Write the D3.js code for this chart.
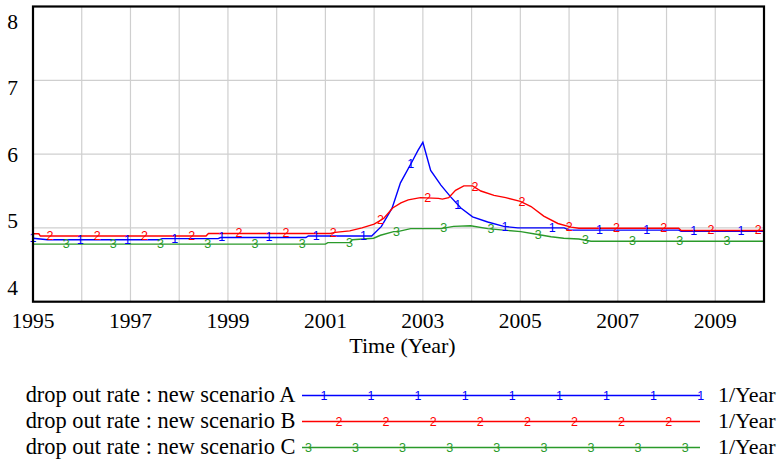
<!DOCTYPE html>
<html><head><meta charset="utf-8">
<script src="https://cdn.jsdelivr.net/npm/d3@7/dist/d3.min.js"></script>
<style>
body{margin:0;background:#fff}
svg{display:block}
</style>
</head><body>
<svg id="chart" width="783" height="464"></svg>
<script>
// ---- data ----
const timesA = [1995.0,1995.3,1997.6,1997.65,1998.8,1998.85,2000.6,2000.65,2001.95,2002.15,2002.37,2002.54,2002.78,2002.9,2003.0,2003.16,2003.37,2003.57,2003.78,2004.02,2004.33,2004.66,2004.95,2005.9,2006.0,2008.25,2008.3,2010.0];
const valuesA = [4.86,4.84,4.84,4.855,4.855,4.87,4.87,4.89,4.89,5.02,5.27,5.61,5.90,6.05,6.16,5.78,5.58,5.42,5.27,5.15,5.08,5.02,5.00,5.00,4.97,4.97,4.955,4.955];

const timesB = [1995.0,1995.12,1995.15,1998.55,1998.6,2001.1,2001.2,2001.5,2001.75,2002.0,2002.2,2002.38,2002.55,2002.7,2002.95,2003.32,2003.4,2003.53,2003.67,2003.84,2004.02,2004.19,2004.46,2004.7,2005.0,2005.22,2005.48,2005.77,2006.04,2006.2,2008.25,2008.3,2010.0];
const valuesB = [4.92,4.92,4.89,4.89,4.925,4.925,4.94,4.96,5.00,5.05,5.13,5.27,5.34,5.38,5.41,5.40,5.39,5.41,5.51,5.57,5.57,5.50,5.44,5.41,5.36,5.29,5.16,5.06,5.01,4.995,4.995,4.965,4.965];

const timesC = [1995.0,2001.0,2001.05,2001.5,2001.55,2001.99,2002.13,2002.4,2002.48,2002.75,2003.16,2003.37,2003.63,2003.98,2004.33,2004.66,2005.01,2005.36,2005.63,2005.89,2006.2,2006.45,2010.0];
const valuesC = [4.78,4.78,4.80,4.80,4.84,4.86,4.90,4.95,4.95,4.99,4.99,4.99,5.02,5.03,4.99,4.97,4.95,4.91,4.88,4.86,4.85,4.82,4.82];

const seriesNames = ["drop out rate : new scenario A","drop out rate : new scenario B","drop out rate : new scenario C"];
const seriesMarks = ["1","2","3"];
const seriesColors = ["#0000ff","#ff0000","#2a9a2a"];
const markerStart = [1995.0,1995.35,1995.68];   // first marker time for each series
const markerStep = 0.9686;                       // years between plot markers
const legendMarkStart = [0.38,0.7,0.05];         // legend marker phase (in marker steps)
const legendMarkCount = [9,8,9];
const yTicks = [4,5,6,7,8];
const xTickLabels = [1995,1997,1999,2001,2003,2005,2007,2009];
const xGrid = [1996,1997,1998,1999,2000,2001,2002,2003,2004,2005,2006,2007,2008,2009];
const yGrid = [5,6,7];
const xTitle = "Time (Year)";
const unitsLabel = "1/Year";

const SERIF = "'Liberation Serif', 'Times New Roman', Tinos, 'DejaVu Serif', serif";
const SANS = "'Liberation Sans', Arial, sans-serif";

// ---- layout ----
const svg = d3.select("#chart");
const L=33, R=764, T=6.5, B=301.7;
const x = d3.scaleLinear().domain([1995,2010]).range([L,R]);
const y = d3.scaleLinear().domain([4,8]).range([B,T]);
const yLab = d3.scaleLinear().domain([4,8]).range([295,28.5]);

// grid
svg.append("g").selectAll("line").data(xGrid).join("line")
  .attr("x1",d=>x(d)).attr("x2",d=>x(d)).attr("y1",T).attr("y2",B)
  .attr("stroke","#cfcfcf").attr("stroke-width",1.2);
svg.append("g").selectAll("line").data(yGrid).join("line")
  .attr("x1",L).attr("x2",R).attr("y1",d=>y(d)).attr("y2",d=>y(d))
  .attr("stroke","#cfcfcf").attr("stroke-width",1.2);

// series
const series = [
  {t:timesA, v:valuesA},
  {t:timesB, v:valuesB},
  {t:timesC, v:valuesC}
];
function interp(s, tt){
  const i = d3.bisectRight(s.t, tt);
  if(i<=0) return s.v[0];
  if(i>=s.t.length) return s.v[s.v.length-1];
  const t0=s.t[i-1], t1=s.t[i];
  const f=(tt-t0)/(t1-t0);
  return s.v[i-1]+(s.v[i]-s.v[i-1])*f;
}
const line = d3.line().x(d=>x(d[0])).y(d=>y(d[1]));
series.forEach((s,k)=>{
  const pts = s.t.map((t,i)=>[t,s.v[i]]);
  svg.append("path").datum(pts).attr("d",line)
    .attr("fill","none").attr("stroke",seriesColors[k]).attr("stroke-width",1.4);
});
series.forEach((s,k)=>{
  const mts = d3.range(markerStart[k], 2010.0001, markerStep);
  svg.append("g").selectAll("text").data(mts).join("text")
    .style("font-family",SANS)
    .attr("x",d=>x(d)).attr("y",d=>y(interp(s,d)))
    .attr("text-anchor","middle").attr("dominant-baseline","central")
    .attr("font-size",12.5).attr("fill",seriesColors[k])
    .text(seriesMarks[k]);
});

// frame
svg.append("rect").attr("x",L).attr("y",T).attr("width",R-L).attr("height",B-T)
  .attr("fill","none").attr("stroke","#000").attr("stroke-width",2.2);

// y labels
svg.append("g").selectAll("text").data(yTicks).join("text")
  .style("font-family",SERIF).attr("x",18).attr("y",d=>yLab(d))
  .attr("text-anchor","end").attr("font-size",21.5).text(d=>d);

// x labels
svg.append("g").selectAll("text").data(xTickLabels).join("text")
  .style("font-family",SERIF).attr("x",d=>x(d)).attr("y",328)
  .attr("text-anchor","middle").attr("font-size",21.5).text(d=>d);

svg.append("text").style("font-family",SERIF).attr("x",402.5).attr("y",353)
  .attr("text-anchor","middle").attr("font-size",22).text(xTitle);

// legend
const legX0=302, legX1=700, legBase=[402,428,454];
const legStep = d3.scaleLinear().domain([0,1]).range([0,47.1]);
seriesNames.forEach((name,k)=>{
  const g = svg.append("g");
  const ly = legBase[k]-6.5;
  g.append("text").style("font-family",SERIF).attr("x",295.5).attr("y",legBase[k])
    .attr("text-anchor","end").attr("font-size",22.4).text(name);
  g.append("line").attr("x1",legX0).attr("x2",legX1).attr("y1",ly).attr("y2",ly)
    .attr("stroke",seriesColors[k]).attr("stroke-width",1.4);
  g.selectAll("text.mk").data(d3.range(legendMarkCount[k])).join("text")
    .attr("class","mk").style("font-family",SANS)
    .attr("x",i=>legX0+4+legStep(i+legendMarkStart[k]))
    .attr("y",ly).attr("text-anchor","middle").attr("dominant-baseline","central")
    .attr("font-size",12.5).attr("fill",seriesColors[k]).text(seriesMarks[k]);
  g.append("text").style("font-family",SERIF).attr("x",718).attr("y",legBase[k])
    .attr("font-size",22).text(unitsLabel);
});
</script>
</body></html>
